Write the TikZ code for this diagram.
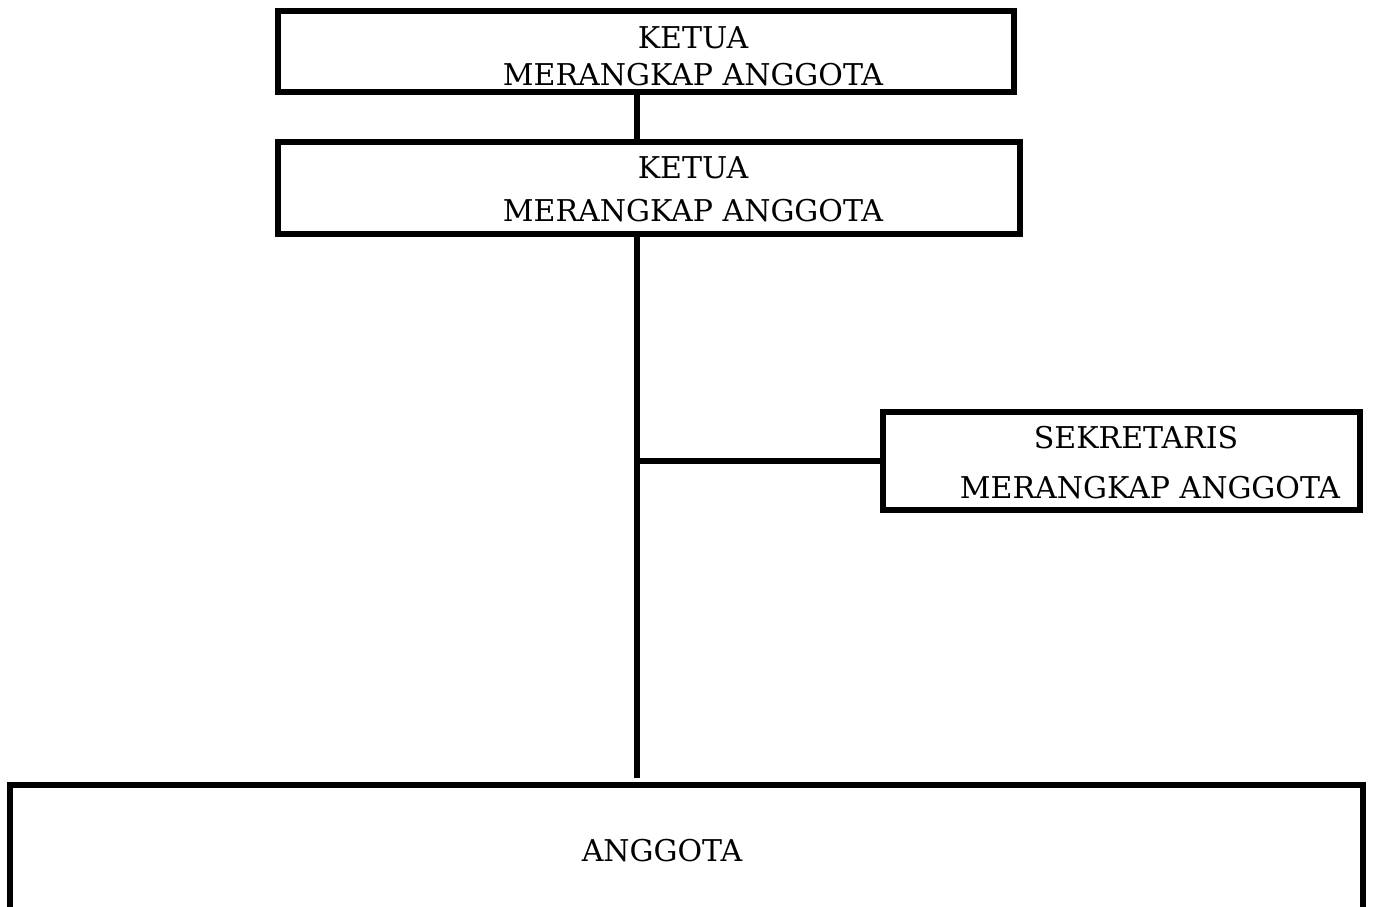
\documentclass[tikz,border=0pt]{standalone}
\usepackage{fontspec}
\setmainfont{DejaVu Serif}
\tikzset{
  box/.style={draw, line width=6pt, inner sep=0pt},
  txt/.style={font=\fontsize{30}{36}\selectfont, inner sep=0pt},
  link/.style={line width=6pt}
}
\begin{document}
\begin{tikzpicture}[x=1pt,y=-1pt]
      \useasboundingbox (0,0) rectangle (1376,906);
      % boxes
      \node[box, minimum width=736pt, minimum height=81pt] (ketua1) at (646,51.5) {};
      \node[box, minimum width=742pt, minimum height=92pt] (ketua2) at (649,188) {};
      \node[box, minimum width=477pt, minimum height=98pt] (sekretaris) at (1121.5,461) {};
      \node[box, minimum width=1353pt, minimum height=240pt] (anggota) at (686.5,905) {};
      % texts
      \node[txt] (ketua1a) at (693,38) {KETUA};
      \node[txt] (ketua1b) at (693,75) {MERANGKAP ANGGOTA};
      \node[txt] (ketua2a) at (693,168) {KETUA};
      \node[txt] (ketua2b) at (693,211) {MERANGKAP ANGGOTA};
      \node[txt] (sekretarisa) at (1136,438) {SEKRETARIS};
      \node[txt] (sekretarisb) at (1150,488) {MERANGKAP ANGGOTA};
      \node[txt] (anggotaa) at (662,851) {ANGGOTA};
      % lines
      \coordinate (spine) at (637,0);
      \coordinate (spineend) at (637,778);
      \begin{scope}[link]
        \draw (ketua1.south -| spine) to (ketua2.north -| spine);
        \draw (ketua2.south -| spine) to (spineend);
        \draw (spine |- sekretaris.west) to (sekretaris.west);
      \end{scope}
    \end{tikzpicture}
\end{document}
